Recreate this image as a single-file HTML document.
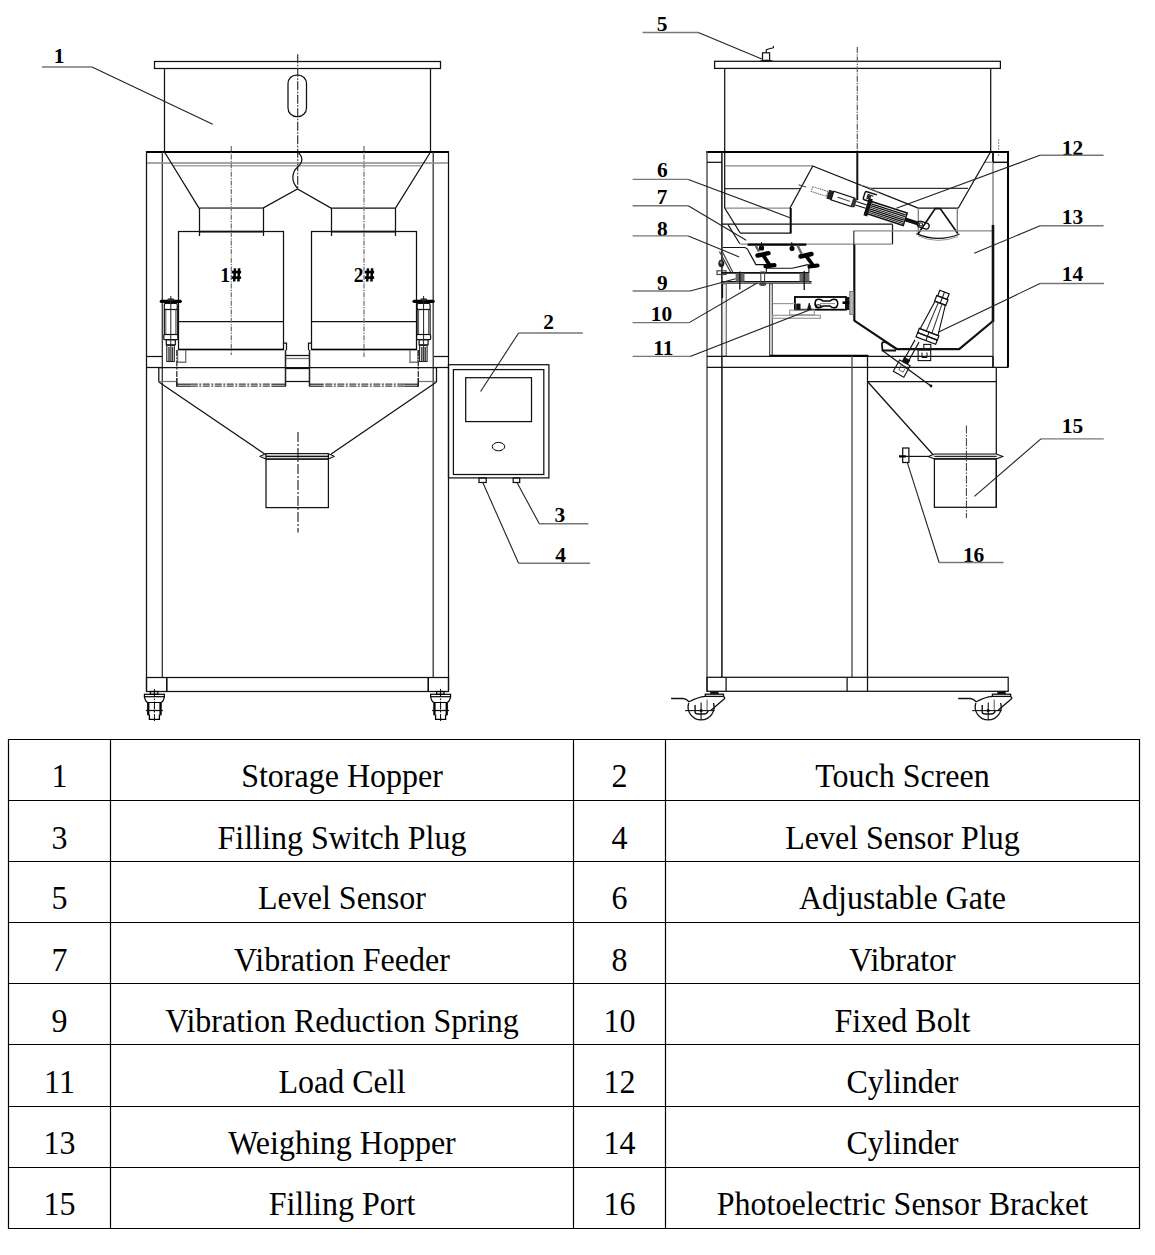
<!DOCTYPE html>
<html><head><meta charset="utf-8"><title>Machine Diagram</title>
<style>
html,body{margin:0;padding:0;background:#fff;}
body{width:1155px;height:1255px;overflow:hidden;position:relative;}
svg{position:absolute;left:0;top:0;display:block;}
</style></head><body>
<svg width="1155" height="1255" viewBox="0 0 1155 1255">
<rect x="0" y="0" width="1155" height="1255" fill="#fff"/>
<g stroke-linecap="butt" fill="none">
<line x1="8" y1="739.5" x2="1140" y2="739.5" stroke="#000" stroke-width="1.2"/>
<line x1="8" y1="800.5" x2="1140" y2="800.5" stroke="#000" stroke-width="1.2"/>
<line x1="8" y1="861.5" x2="1140" y2="861.5" stroke="#000" stroke-width="1.2"/>
<line x1="8" y1="922.5" x2="1140" y2="922.5" stroke="#000" stroke-width="1.2"/>
<line x1="8" y1="983.5" x2="1140" y2="983.5" stroke="#000" stroke-width="1.2"/>
<line x1="8" y1="1044.5" x2="1140" y2="1044.5" stroke="#000" stroke-width="1.2"/>
<line x1="8" y1="1106.5" x2="1140" y2="1106.5" stroke="#000" stroke-width="1.2"/>
<line x1="8" y1="1167.5" x2="1140" y2="1167.5" stroke="#000" stroke-width="1.2"/>
<line x1="8" y1="1228.5" x2="1140" y2="1228.5" stroke="#000" stroke-width="1.2"/>
<line x1="8.5" y1="739" x2="8.5" y2="1229" stroke="#000" stroke-width="1.2"/>
<line x1="110.5" y1="739" x2="110.5" y2="1229" stroke="#000" stroke-width="1.2"/>
<line x1="573.5" y1="739" x2="573.5" y2="1229" stroke="#000" stroke-width="1.2"/>
<line x1="665.5" y1="739" x2="665.5" y2="1229" stroke="#000" stroke-width="1.2"/>
<line x1="1139.5" y1="739" x2="1139.5" y2="1229" stroke="#000" stroke-width="1.2"/>
<rect x="154.5" y="61.5" width="286" height="7" stroke="#111" stroke-width="1.25" fill="none"/>
<line x1="164.5" y1="68.5" x2="164.5" y2="151" stroke="#111" stroke-width="1.25"/>
<line x1="430.5" y1="68.5" x2="430.5" y2="151" stroke="#111" stroke-width="1.25"/>
<rect x="288" y="75" width="18.5" height="41.5" stroke="#111" stroke-width="1.25" fill="none" rx="8.5"/>
<line x1="297.7" y1="54.3" x2="297.7" y2="188.5" stroke="#333" stroke-width="1.2" stroke-dasharray="9,1.5,1.5,1.5"/>
<line x1="146" y1="152" x2="448.5" y2="152" stroke="#000" stroke-width="2"/>
<line x1="146.5" y1="151" x2="146.5" y2="691" stroke="#111" stroke-width="1.25"/>
<line x1="162.3" y1="152" x2="162.3" y2="677.5" stroke="#333" stroke-width="1.3"/>
<line x1="433.2" y1="152" x2="433.2" y2="677.5" stroke="#333" stroke-width="1.3"/>
<line x1="448.5" y1="151" x2="448.5" y2="691" stroke="#111" stroke-width="1.25"/>
<line x1="147" y1="163" x2="448" y2="163" stroke="#8a8a8a" stroke-width="1.6"/>
<line x1="173" y1="165.8" x2="422" y2="165.8" stroke="#a5a5a5" stroke-width="1.6"/>
<polyline points="164.5,152 199,208 263,208 297.5,189 331,208 395.5,208 430.5,152" stroke="#111" stroke-width="1.25" fill="none"/>
<line x1="199" y1="208" x2="263" y2="208" stroke="#777" stroke-width="1.25"/>
<line x1="199.5" y1="208" x2="199.5" y2="236" stroke="#111" stroke-width="1.25"/>
<line x1="263.5" y1="208" x2="263.5" y2="236" stroke="#111" stroke-width="1.25"/>
<line x1="331.5" y1="208" x2="331.5" y2="236" stroke="#111" stroke-width="1.25"/>
<line x1="395.5" y1="208" x2="395.5" y2="236" stroke="#111" stroke-width="1.25"/>
<path d="M297.7,152 C303.5,157 303,162 297.7,167 C292,172 290.5,181 297.7,188.5" stroke="#111" stroke-width="1.25" fill="none"/>
<rect x="178.5" y="231.5" width="105" height="118" stroke="#111" stroke-width="1.25" fill="none"/>
<rect x="311.5" y="231.5" width="105" height="118" stroke="#111" stroke-width="1.25" fill="none"/>
<line x1="199" y1="231.6" x2="263.5" y2="231.6" stroke="#111" stroke-width="1.8"/>
<line x1="331" y1="231.6" x2="395.5" y2="231.6" stroke="#111" stroke-width="1.8"/>
<line x1="178.5" y1="349.5" x2="283.5" y2="349.5" stroke="#000" stroke-width="1.6"/>
<line x1="311.5" y1="349.5" x2="416.5" y2="349.5" stroke="#000" stroke-width="1.6"/>
<line x1="179" y1="321.5" x2="283" y2="321.5" stroke="#111" stroke-width="1.25"/>
<line x1="312" y1="321.5" x2="416" y2="321.5" stroke="#111" stroke-width="1.25"/>
<polyline points="283.5,343 286.5,343 286.5,350" stroke="#111" stroke-width="1.25" fill="none"/>
<polyline points="311.5,343 308.5,343 308.5,350" stroke="#111" stroke-width="1.25" fill="none"/>
<line x1="231.3" y1="146" x2="231.3" y2="355" stroke="#777" stroke-width="1.3" stroke-dasharray="5,1.2,1.2,1.2"/>
<line x1="364" y1="146" x2="364" y2="357" stroke="#777" stroke-width="1.3" stroke-dasharray="5,1.2,1.2,1.2"/>
<text x="0" y="0" transform="translate(230 281.8) scale(0.95 1.02)" font-family="Liberation Serif" font-size="20.5" font-weight="bold" text-anchor="end" fill="#000" stroke="none">1</text>
<text x="0" y="0" transform="translate(363.4 281.8) scale(0.95 1.02)" font-family="Liberation Serif" font-size="20.5" font-weight="bold" text-anchor="end" fill="#000" stroke="none">2</text>
<line x1="235" y1="268.3" x2="234.2" y2="281.5" stroke="#000" stroke-width="2.5"/>
<line x1="239.1" y1="268.3" x2="238.4" y2="281.5" stroke="#000" stroke-width="2.5"/>
<line x1="231.8" y1="272.1" x2="241.1" y2="272.1" stroke="#000" stroke-width="2.6"/>
<line x1="231.8" y1="277.6" x2="241.1" y2="277.6" stroke="#000" stroke-width="2.6"/>
<line x1="368" y1="268.3" x2="367.2" y2="281.5" stroke="#000" stroke-width="2.5"/>
<line x1="372.1" y1="268.3" x2="371.4" y2="281.5" stroke="#000" stroke-width="2.5"/>
<line x1="364.8" y1="272.1" x2="374.1" y2="272.1" stroke="#000" stroke-width="2.6"/>
<line x1="364.8" y1="277.6" x2="374.1" y2="277.6" stroke="#000" stroke-width="2.6"/>
<line x1="161.3" y1="301.3" x2="180.3" y2="301.3" stroke="#000" stroke-width="3.2" stroke-linecap="round"/>
<ellipse cx="170.8" cy="299.6" rx="3.5" ry="1.3" fill="#333"/>
<rect x="164.3" y="303.4" width="13" height="6.1" stroke="#111" stroke-width="1.2" fill="none" rx="1.5"/>
<rect x="164.3" y="309.5" width="13" height="25" stroke="#111" stroke-width="1.2" fill="none"/>
<line x1="165.8" y1="309.5" x2="165.8" y2="334.5" stroke="#555" stroke-width="1"/>
<line x1="175.8" y1="309.5" x2="175.8" y2="334.5" stroke="#555" stroke-width="1"/>
<rect x="163.8" y="334.5" width="14" height="5.2" stroke="#111" stroke-width="1.2" fill="none" rx="1"/>
<rect x="166.3" y="339.7" width="9" height="5.1" stroke="#111" stroke-width="1.2" fill="none"/>
<rect x="166.8" y="345.5" width="7.5" height="16" stroke="#222" stroke-width="1.1" fill="none"/>
<line x1="169" y1="347" x2="169" y2="361" stroke="#333" stroke-width="1.4"/>
<line x1="172.4" y1="347" x2="172.4" y2="361" stroke="#333" stroke-width="1.4"/>
<line x1="170.8" y1="296" x2="170.8" y2="362" stroke="#222" stroke-width="1"/>
<line x1="414.1" y1="301.3" x2="433.1" y2="301.3" stroke="#000" stroke-width="3.2" stroke-linecap="round"/>
<ellipse cx="423.6" cy="299.6" rx="3.5" ry="1.3" fill="#333"/>
<rect x="417.1" y="303.4" width="13" height="6.1" stroke="#111" stroke-width="1.2" fill="none" rx="1.5"/>
<rect x="417.1" y="309.5" width="13" height="25" stroke="#111" stroke-width="1.2" fill="none"/>
<line x1="418.6" y1="309.5" x2="418.6" y2="334.5" stroke="#555" stroke-width="1"/>
<line x1="428.6" y1="309.5" x2="428.6" y2="334.5" stroke="#555" stroke-width="1"/>
<rect x="416.6" y="334.5" width="14" height="5.2" stroke="#111" stroke-width="1.2" fill="none" rx="1"/>
<rect x="419.1" y="339.7" width="9" height="5.1" stroke="#111" stroke-width="1.2" fill="none"/>
<rect x="419.6" y="345.5" width="7.5" height="16" stroke="#222" stroke-width="1.1" fill="none"/>
<line x1="421.8" y1="347" x2="421.8" y2="361" stroke="#333" stroke-width="1.4"/>
<line x1="425.2" y1="347" x2="425.2" y2="361" stroke="#333" stroke-width="1.4"/>
<line x1="423.6" y1="296" x2="423.6" y2="362" stroke="#222" stroke-width="1"/>
<polyline points="177.5,350 177.5,362.3 185.7,362.3 185.7,350" stroke="#777" stroke-width="1.4" fill="none"/>
<polyline points="418,350 418,362.3 410,362.3 410,350" stroke="#777" stroke-width="1.4" fill="none"/>
<line x1="147" y1="356.5" x2="162" y2="356.5" stroke="#111" stroke-width="1.25"/>
<line x1="147" y1="367.5" x2="162" y2="367.5" stroke="#111" stroke-width="1.25"/>
<line x1="434" y1="356.5" x2="448" y2="356.5" stroke="#111" stroke-width="1.25"/>
<line x1="434" y1="367.5" x2="448" y2="367.5" stroke="#111" stroke-width="1.25"/>
<line x1="285.5" y1="355.5" x2="309.5" y2="355.5" stroke="#111" stroke-width="1.25"/>
<line x1="285.5" y1="358.5" x2="309.5" y2="358.5" stroke="#777" stroke-width="1.25"/>
<line x1="285.5" y1="368.5" x2="309.5" y2="368.5" stroke="#111" stroke-width="1.25"/>
<line x1="285.5" y1="381.5" x2="309.5" y2="381.5" stroke="#111" stroke-width="1.25"/>
<line x1="285.5" y1="350" x2="285.5" y2="386" stroke="#111" stroke-width="1.25"/>
<line x1="309.5" y1="350" x2="309.5" y2="386" stroke="#111" stroke-width="1.25"/>
<polyline points="158.8,382 158.8,367.5 436.5,367.5 436.5,382" stroke="#111" stroke-width="1.25" fill="none"/>
<line x1="158.8" y1="382" x2="264.7" y2="454" stroke="#111" stroke-width="1.25"/>
<line x1="436.5" y1="382" x2="331.2" y2="454" stroke="#111" stroke-width="1.25"/>
<line x1="159" y1="381.5" x2="176" y2="381.5" stroke="#777" stroke-width="1.25"/>
<line x1="419" y1="381.5" x2="436" y2="381.5" stroke="#777" stroke-width="1.25"/>
<line x1="176.8" y1="350" x2="176.8" y2="386.5" stroke="#333" stroke-width="1.3" stroke-dasharray="6,1.5,1.5,1.5"/>
<line x1="176.8" y1="378" x2="176.8" y2="386.5" stroke="#222" stroke-width="1.4"/>
<line x1="285.5" y1="350" x2="285.5" y2="386.5" stroke="#222" stroke-width="1.3"/>
<line x1="176.8" y1="384.2" x2="190.8" y2="384.2" stroke="#222" stroke-width="1.2"/>
<line x1="190.8" y1="384.2" x2="271.5" y2="384.2" stroke="#444" stroke-width="1.2" stroke-dasharray="7,1.5,2,1.5"/>
<line x1="271.5" y1="384.2" x2="285.5" y2="384.2" stroke="#222" stroke-width="1.2"/>
<line x1="176.8" y1="386.2" x2="190.8" y2="386.2" stroke="#222" stroke-width="1.2"/>
<line x1="190.8" y1="386.2" x2="271.5" y2="386.2" stroke="#444" stroke-width="1.2" stroke-dasharray="7,1.5,2,1.5"/>
<line x1="271.5" y1="386.2" x2="285.5" y2="386.2" stroke="#222" stroke-width="1.2"/>
<line x1="418.3" y1="350" x2="418.3" y2="386.5" stroke="#333" stroke-width="1.3" stroke-dasharray="6,1.5,1.5,1.5"/>
<line x1="418.3" y1="378" x2="418.3" y2="386.5" stroke="#222" stroke-width="1.4"/>
<line x1="309.5" y1="350" x2="309.5" y2="386.5" stroke="#222" stroke-width="1.3"/>
<line x1="418.3" y1="384.2" x2="404.3" y2="384.2" stroke="#222" stroke-width="1.2"/>
<line x1="404.3" y1="384.2" x2="323.5" y2="384.2" stroke="#444" stroke-width="1.2" stroke-dasharray="7,1.5,2,1.5"/>
<line x1="323.5" y1="384.2" x2="309.5" y2="384.2" stroke="#222" stroke-width="1.2"/>
<line x1="418.3" y1="386.2" x2="404.3" y2="386.2" stroke="#222" stroke-width="1.2"/>
<line x1="404.3" y1="386.2" x2="323.5" y2="386.2" stroke="#444" stroke-width="1.2" stroke-dasharray="7,1.5,2,1.5"/>
<line x1="323.5" y1="386.2" x2="309.5" y2="386.2" stroke="#222" stroke-width="1.2"/>
<path d="M259.7,456.4 L266,453.6 L328.4,453.6 L334.5,456.4 L328.4,459.1 L266,459.1 Z" stroke="#000" stroke-width="1" fill="#ddd"/>
<line x1="266" y1="456.4" x2="328.4" y2="456.4" stroke="#111" stroke-width="1.25"/>
<line x1="266" y1="453.6" x2="266" y2="459.1" stroke="#111" stroke-width="1.25"/>
<line x1="328.4" y1="453.6" x2="328.4" y2="459.1" stroke="#111" stroke-width="1.25"/>
<rect x="266" y="459.1" width="62.4" height="48.5" stroke="#111" stroke-width="1.25" fill="none"/>
<line x1="298" y1="432" x2="298" y2="532.5" stroke="#000" stroke-width="1" stroke-dasharray="10,2,2,2"/>
<rect x="146.5" y="677.5" width="302" height="14" stroke="#111" stroke-width="1.25" fill="none"/>
<line x1="166.8" y1="677.5" x2="166.8" y2="691.5" stroke="#000" stroke-width="1.5"/>
<line x1="428.2" y1="677.5" x2="428.2" y2="691.5" stroke="#000" stroke-width="1.5"/>
<rect x="150.4" y="691.5" width="7.5" height="2.8" stroke="#000" stroke-width="1.2" fill="none"/>
<rect x="144.4" y="694.3" width="20" height="2.4" stroke="#000" stroke-width="1.2" fill="none"/>
<path d="M144.4,696.7 Q145.4,702 147.9,702.5 L160.9,702.5 Q163.4,702 164.4,696.7" stroke="#000" stroke-width="1.2" fill="none"/>
<path d="M147.9,702.5 L147.9,714.8 L149.4,715 L149.4,719.4 L159.4,719.4 L159.4,715 L160.9,714.8 L160.9,702.5" stroke="#000" stroke-width="1.3" fill="none"/>
<line x1="148.4" y1="703" x2="148.4" y2="714.5" stroke="#000" stroke-width="2"/>
<line x1="160.4" y1="703" x2="160.4" y2="714.5" stroke="#000" stroke-width="2"/>
<line x1="145.9" y1="710.5" x2="162.9" y2="710.5" stroke="#111" stroke-width="1.25"/>
<line x1="154.4" y1="689" x2="154.4" y2="721" stroke="#000" stroke-width="1" stroke-dasharray="8,1.5,1.5,1.5"/>
<rect x="436.6" y="691.5" width="7.5" height="2.8" stroke="#000" stroke-width="1.2" fill="none"/>
<rect x="430.6" y="694.3" width="20" height="2.4" stroke="#000" stroke-width="1.2" fill="none"/>
<path d="M430.6,696.7 Q431.6,702 434.1,702.5 L447.1,702.5 Q449.6,702 450.6,696.7" stroke="#000" stroke-width="1.2" fill="none"/>
<path d="M434.1,702.5 L434.1,714.8 L435.6,715 L435.6,719.4 L445.6,719.4 L445.6,715 L447.1,714.8 L447.1,702.5" stroke="#000" stroke-width="1.3" fill="none"/>
<line x1="434.6" y1="703" x2="434.6" y2="714.5" stroke="#000" stroke-width="2"/>
<line x1="446.6" y1="703" x2="446.6" y2="714.5" stroke="#000" stroke-width="2"/>
<line x1="432.1" y1="710.5" x2="449.1" y2="710.5" stroke="#111" stroke-width="1.25"/>
<line x1="440.6" y1="689" x2="440.6" y2="721" stroke="#000" stroke-width="1" stroke-dasharray="8,1.5,1.5,1.5"/>
<rect x="448.5" y="364.7" width="100.4" height="113.2" stroke="#111" stroke-width="1.25" fill="none"/>
<rect x="453.4" y="369.6" width="90.4" height="104.9" stroke="#111" stroke-width="1.25" fill="none"/>
<rect x="465.7" y="377.7" width="65.8" height="43.9" stroke="#111" stroke-width="1.25" fill="none"/>
<ellipse cx="498.5" cy="446.6" rx="6.2" ry="4.2" stroke="#000" fill="none"/>
<rect x="479" y="478" width="7.2" height="4.5" stroke="#111" stroke-width="1.25" fill="none"/>
<rect x="513.2" y="478" width="6.5" height="4.5" stroke="#111" stroke-width="1.25" fill="none"/>
<rect x="714.6" y="61.3" width="285.8" height="7.1" stroke="#111" stroke-width="1.25" fill="none"/>
<line x1="724.7" y1="68.4" x2="724.7" y2="208" stroke="#111" stroke-width="1.25"/>
<line x1="990.7" y1="68.4" x2="990.7" y2="152" stroke="#111" stroke-width="1.25"/>
<ellipse cx="766.5" cy="60.6" rx="6.3" ry="0.9" fill="#111"/>
<rect x="762.5" y="52.8" width="7.1" height="7.7" stroke="#111" stroke-width="1.2" fill="none"/>
<path d="M766.3,52.8 L766.3,49.7 Q769,48.6 772.5,48 Q774,47.5 773.2,46" stroke="#111" stroke-width="1.2" fill="none"/>
<line x1="857.3" y1="47" x2="857.3" y2="151" stroke="#666" stroke-width="1.3" stroke-dasharray="6,1.2,1.2,1.2"/>
<line x1="998.6" y1="139" x2="998.6" y2="156" stroke="#999" stroke-width="1.2" stroke-dasharray="2,1"/>
<line x1="857.3" y1="151" x2="857.3" y2="200" stroke="#111" stroke-width="2"/>
<line x1="706" y1="152" x2="1009" y2="152" stroke="#000" stroke-width="2"/>
<line x1="707" y1="151" x2="707" y2="691.3" stroke="#555" stroke-width="1.5"/>
<line x1="721.9" y1="152" x2="721.9" y2="677.3" stroke="#222" stroke-width="1.6"/>
<line x1="707" y1="162.3" x2="721.9" y2="162.3" stroke="#111" stroke-width="1.25"/>
<line x1="993" y1="152" x2="993" y2="225" stroke="#777" stroke-width="1.3"/>
<line x1="993" y1="152" x2="993" y2="162.3" stroke="#111" stroke-width="1.8"/>
<line x1="1008" y1="151" x2="1008" y2="367.5" stroke="#000" stroke-width="2"/>
<line x1="993" y1="162.3" x2="1008" y2="162.3" stroke="#111" stroke-width="1.5"/>
<line x1="985" y1="162.3" x2="993" y2="162.3" stroke="#888" stroke-width="1.25"/>
<line x1="725" y1="165.8" x2="812.9" y2="165.8" stroke="#888" stroke-width="1.25"/>
<line x1="725" y1="188.6" x2="800" y2="188.6" stroke="#333" stroke-width="1.25"/>
<line x1="870" y1="188.4" x2="968" y2="188.4" stroke="#333" stroke-width="1.25"/>
<line x1="725" y1="208" x2="790" y2="208" stroke="#888" stroke-width="1.25"/>
<line x1="724.7" y1="208" x2="740.2" y2="233" stroke="#111" stroke-width="1.25"/>
<line x1="812.9" y1="165.8" x2="790" y2="208" stroke="#111" stroke-width="1.25"/>
<line x1="790.7" y1="208" x2="790.7" y2="233.5" stroke="#000" stroke-width="2"/>
<line x1="740.2" y1="233" x2="790.7" y2="233" stroke="#111" stroke-width="1.25"/>
<line x1="812.7" y1="166" x2="918.2" y2="208.2" stroke="#111" stroke-width="1.25"/>
<line x1="990.5" y1="152" x2="958.2" y2="208.2" stroke="#111" stroke-width="1.25"/>
<line x1="918.2" y1="208.2" x2="958.2" y2="208.2" stroke="#111" stroke-width="1.25"/>
<line x1="918.3" y1="208.2" x2="918.3" y2="235" stroke="#777" stroke-width="1.25"/>
<line x1="957.3" y1="208.2" x2="957.3" y2="233" stroke="#777" stroke-width="1.25"/>
<polyline points="918,234 935.2,208.6 940.2,208.6 957.8,233.6" stroke="#111" stroke-width="1.7" fill="none"/>
<path d="M916.4,233.6 Q938,243 959.6,234" stroke="#111" stroke-width="1.3" fill="none"/>
<path d="M918,236 Q938,244.5 958,236.5" stroke="#999" stroke-width="1" fill="none"/>
<g transform="translate(812,189) rotate(18)"><rect x="0" y="-2.5" width="16" height="5" fill="none" stroke="#666" stroke-width="1" stroke-dasharray="1.6,0.8"/><rect x="16.5" y="-4.5" width="5" height="9" fill="#222"/><rect x="21.5" y="-4.5" width="22" height="9" fill="none" stroke="#111" stroke-width="1.2"/><line x1="27" y1="0" x2="40" y2="0" stroke="#333" stroke-width="1"/><rect x="42" y="-4.5" width="4" height="9" fill="#333"/><line x1="46" y1="-1.8" x2="57" y2="-1.8" stroke="#111"/><line x1="46" y1="1.8" x2="57" y2="1.8" stroke="#111"/><rect x="58" y="-6.5" width="40" height="13" fill="none" stroke="#111" stroke-width="1.5"/><rect x="57" y="-9" width="4" height="18" fill="#111"/><line x1="61" y1="-4.3" x2="97" y2="-4.3" stroke="#111" stroke-width="1.3"/><line x1="61" y1="-2.4" x2="97" y2="-2.4" stroke="#111" stroke-width="1.3"/><line x1="61" y1="-0.6" x2="97" y2="-0.6" stroke="#222" stroke-width="1"/><line x1="61" y1="1.2" x2="97" y2="1.2" stroke="#111" stroke-width="1.3"/><line x1="61" y1="3" x2="97" y2="3" stroke="#111" stroke-width="1.3"/><line x1="61" y1="4.7" x2="97" y2="4.7" stroke="#222" stroke-width="1"/><rect x="98" y="-2" width="14" height="4" fill="#111"/><rect x="111" y="-3" width="12" height="6" rx="3" fill="none" stroke="#111" stroke-width="1.3"/><circle cx="114.5" cy="0" r="1.6" fill="none" stroke="#111" stroke-width="1"/><line x1="-14" y1="0" x2="-6" y2="0" stroke="#333" stroke-width="1"/></g>
<g transform="translate(865.5,191.2) rotate(18)"><path d="M12,0 L1.5,0 Q0,0 0,1.5 L0,7 Q0,8.5 1.5,8.5 L10,8.5" fill="none" stroke="#111" stroke-width="1.5"/><path d="M9,2.3 L3.5,2.3 L3.5,6.3 L8,6.3" fill="none" stroke="#111" stroke-width="1.1"/><circle cx="5.5" cy="4.3" r="1.6" fill="#222"/></g>
<path d="M860,185 Q868,186 879,193" stroke="#777" stroke-width="1.2" fill="none"/>
<line x1="721.9" y1="224.2" x2="892.5" y2="224.2" stroke="#111" stroke-width="1.25"/>
<line x1="892.5" y1="224.2" x2="892.5" y2="244.2" stroke="#111" stroke-width="1.25"/>
<line x1="740.3" y1="244.1" x2="892.5" y2="244.1" stroke="#888" stroke-width="1.2"/>
<line x1="853.5" y1="230.9" x2="993" y2="230.9" stroke="#888" stroke-width="1.25"/>
<line x1="853.8" y1="230.9" x2="853.8" y2="245" stroke="#444" stroke-width="1.3"/>
<line x1="854.3" y1="244.5" x2="854.3" y2="321" stroke="#111" stroke-width="2.2"/>
<polyline points="854.3,320.6 897,349.2 959.2,349.2 993,321" stroke="#111" stroke-width="2.2" fill="none"/>
<line x1="993" y1="224.9" x2="993" y2="322" stroke="#111" stroke-width="2.6"/>
<line x1="993" y1="321" x2="993" y2="367.4" stroke="#333" stroke-width="1.2"/>
<path d="M897,349.2 L886,342.5 Q881.5,341 882,345 L882.5,350.5 L896,350.5" stroke="#111" stroke-width="1.8" fill="none"/>
<line x1="883" y1="351" x2="931.3" y2="386.2" stroke="#111" stroke-width="1.3"/>
<circle cx="931" cy="386" r="1.4" fill="#111"/>
<rect x="918.1" y="350.1" width="12.6" height="10.5" stroke="#111" stroke-width="1.1" fill="none"/>
<path d="M922,352.5 L922,357.5 L927,357.5 L927,352.5" stroke="#111" stroke-width="1" fill="none"/>
<g transform="translate(944.5,292) rotate(111)"><rect x="0" y="-5" width="6" height="10" fill="none" stroke="#111" stroke-width="1.2"/><rect x="6" y="-6" width="6" height="12" fill="none" stroke="#111" stroke-width="1.2"/><line x1="0" y1="0" x2="12" y2="0" stroke="#111"/><polygon points="12,-5.5 43,-9.5 43,9.5 12,5.5" fill="none" stroke="#111" stroke-width="1.1"/><line x1="12" y1="-2" x2="43" y2="-3" stroke="#333" stroke-width="1"/><line x1="12" y1="2" x2="43" y2="3" stroke="#333" stroke-width="1"/><rect x="43" y="-10.5" width="4.5" height="21" fill="none" stroke="#111" stroke-width="1.2"/><rect x="47.5" y="-10.5" width="4.5" height="21" fill="none" stroke="#111" stroke-width="1.2"/><line x1="43" y1="0" x2="52" y2="0" stroke="#111"/></g>
<g transform="translate(917,341) rotate(119)"><line x1="0" y1="-2.3" x2="21" y2="-2.3" stroke="#111" stroke-width="1.1"/><line x1="0" y1="2.3" x2="21" y2="2.3" stroke="#111" stroke-width="1.1"/><rect x="20" y="-3.5" width="5" height="7" fill="#111"/><rect x="25" y="-6" width="13" height="12" fill="none" stroke="#111" stroke-width="1.1"/><rect x="28" y="-3" width="6" height="5" fill="none" stroke="#555" stroke-width="0.8"/></g>
<rect x="923.8" y="344.4" width="7" height="4.8" stroke="#111" stroke-width="1.1" fill="none"/>
<path d="M728,224.6 L739.8,243.8" stroke="#111" stroke-width="1.2" fill="none"/>
<line x1="747.6" y1="244.6" x2="806.3" y2="244.6" stroke="#000" stroke-width="2.4"/>
<path d="M722.7,247.5 L744.5,247.5 Q747.5,248 749,252 L755.9,264.6 L766.3,264.6" stroke="#111" stroke-width="1.2" fill="none"/>
<path d="M766.3,268.2 L792.3,268.2 L807.9,264.6" stroke="#111" stroke-width="1.1" fill="none"/>
<line x1="766.3" y1="266.5" x2="766.3" y2="273" stroke="#111" stroke-width="1.1"/>
<line x1="808.9" y1="264" x2="808.9" y2="273" stroke="#111" stroke-width="1.1"/>
<path d="M755.9,245.9 L759,251.6" stroke="#666" stroke-width="2.4" fill="none"/>
<path d="M797.5,245.4 L801.6,253.7" stroke="#666" stroke-width="2.4" fill="none"/>
<line x1="757.5" y1="255.5" x2="768.5" y2="253.2" stroke="#000" stroke-width="4.4" stroke-linecap="round"/>
<line x1="765.5" y1="266.2" x2="774.5" y2="265.2" stroke="#000" stroke-width="4.2" stroke-linecap="round"/>
<line x1="763" y1="254.85" x2="770" y2="265.7" stroke="#000" stroke-width="3.8" stroke-linecap="round"/>
<line x1="800.5" y1="256.5" x2="811.5" y2="254" stroke="#000" stroke-width="4.4" stroke-linecap="round"/>
<line x1="809.5" y1="266.5" x2="817.5" y2="265.5" stroke="#000" stroke-width="4.2" stroke-linecap="round"/>
<line x1="806" y1="255.75" x2="813.5" y2="266" stroke="#000" stroke-width="3.8" stroke-linecap="round"/>
<rect x="759" y="245.5" width="5" height="5" rx="1.5" fill="#000"/>
<rect x="789.5" y="246" width="5" height="5" rx="2" fill="#000"/>
<line x1="761.5" y1="242" x2="761.5" y2="247" stroke="#111" stroke-width="1"/>
<line x1="791.8" y1="242" x2="791.8" y2="247" stroke="#111" stroke-width="1"/>
<path d="M719.5,251.6 L731,272.9 M722,251 L733,272.5" stroke="#444" stroke-width="1.2" fill="none"/>
<ellipse cx="721.3" cy="263.5" rx="3" ry="3.8" fill="#222"/>
<circle cx="721" cy="262.5" r="1.2" fill="#888"/>
<rect x="717" y="270.8" width="9" height="3.7" stroke="#444" stroke-width="1.2" fill="none"/>
<line x1="721.1" y1="272.9" x2="808.9" y2="272.9" stroke="#111" stroke-width="1.8"/>
<line x1="721.6" y1="281.8" x2="811.5" y2="281.8" stroke="#111" stroke-width="1.5"/>
<line x1="721.6" y1="283.3" x2="811.5" y2="283.3" stroke="#666" stroke-width="1.2"/>
<rect x="735.6" y="273.5" width="8.9" height="8" stroke="none" stroke-width="0" fill="#666"/>
<rect x="799.5" y="273.5" width="9.9" height="8" stroke="none" stroke-width="0" fill="#666"/>
<line x1="739.8" y1="271.4" x2="739.8" y2="289.5" stroke="#111" stroke-width="1.3"/>
<line x1="804.2" y1="271" x2="804.2" y2="290" stroke="#111" stroke-width="1.3"/>
<rect x="760.8" y="272" width="3.8" height="11" stroke="#444" stroke-width="1.1" fill="none"/>
<ellipse cx="762.7" cy="284.3" rx="3.6" ry="1.6" fill="#444"/>
<rect x="722.1" y="283.8" width="4.2" height="72.4" stroke="#666" stroke-width="1.1" fill="#f2f2f2"/>
<line x1="722.3" y1="284" x2="722.3" y2="298" stroke="#111" stroke-width="1.6"/>
<rect x="769.6" y="283.8" width="2.7" height="72.2" stroke="#444" stroke-width="1.1" fill="#eee"/>
<line x1="769.9" y1="355.8" x2="868.5" y2="355.8" stroke="#000" stroke-width="2.2"/>
<rect x="794.9" y="297" width="51.1" height="12.7" stroke="#000" stroke-width="1.8" fill="none"/>
<line x1="772.8" y1="303.6" x2="794.9" y2="303.6" stroke="#999" stroke-width="1.2"/>
<rect x="789.7" y="310.1" width="24.7" height="4.8" stroke="#999" stroke-width="1.2" fill="none"/>
<rect x="772.8" y="315.3" width="47.6" height="3" stroke="#999" stroke-width="1.2" fill="none"/>
<path d="M816,300 Q814,303.5 816,307 Q820,309 823,306 L830,306 Q833,309 836.5,307 Q839,303.5 836.5,300 Q833,298 830,301 L823,301 Q820,298 816,300 Z" stroke="#000" stroke-width="1.5" fill="none"/>
<ellipse cx="818.5" cy="306" rx="2.6" ry="1.3" fill="none" stroke="#000" stroke-width="1.1"/>
<line x1="820" y1="303.6" x2="835" y2="303.6" stroke="#888" stroke-width="1"/>
<rect x="796.2" y="303.6" width="4.3" height="6.1" stroke="none" stroke-width="0" fill="#111"/>
<path d="M807.4,309.7 L809.3,303 L811.3,309.7 Z" stroke="#111" stroke-width="0.8" fill="#111"/>
<rect x="846" y="297" width="3.5" height="13" stroke="none" stroke-width="0" fill="#111"/>
<line x1="842.5" y1="302.7" x2="854.2" y2="302.7" stroke="#000" stroke-width="2.6"/>
<rect x="849.8" y="291.5" width="3.5" height="22.9" stroke="#777" stroke-width="1" fill="#bbb"/>
<line x1="707" y1="356.4" x2="852" y2="356.4" stroke="#111" stroke-width="1.25"/>
<line x1="868" y1="356.4" x2="993" y2="356.4" stroke="#111" stroke-width="1.25"/>
<line x1="707" y1="367.4" x2="1008" y2="367.4" stroke="#111" stroke-width="1.25"/>
<line x1="852" y1="355.8" x2="852" y2="677.3" stroke="#444" stroke-width="1.3"/>
<line x1="867.5" y1="355.8" x2="867.5" y2="691.3" stroke="#111" stroke-width="1.25"/>
<line x1="993" y1="356.4" x2="993" y2="367.4" stroke="#111" stroke-width="1.5"/>
<line x1="996.3" y1="367.4" x2="996.3" y2="507.3" stroke="#111" stroke-width="1.25"/>
<line x1="867.5" y1="381.5" x2="996.3" y2="381.5" stroke="#111" stroke-width="1.25"/>
<line x1="867.5" y1="381.5" x2="932.9" y2="454.5" stroke="#111" stroke-width="1.25"/>
<path d="M928.2,456.4 L934.4,454 L996.5,454 L1002.7,456.4 L996.5,458.9 L934.4,458.9 Z" stroke="#111" stroke-width="1.1" fill="#e4e4e4"/>
<line x1="934.4" y1="456.4" x2="996.5" y2="456.4" stroke="#111" stroke-width="1"/>
<rect x="934.4" y="458.9" width="61.9" height="48.4" stroke="#111" stroke-width="1.25" fill="none"/>
<line x1="966.4" y1="425.5" x2="966.4" y2="518.2" stroke="#333" stroke-width="1" stroke-dasharray="8,1.5,1.5,1.5"/>
<rect x="902.7" y="448" width="6.2" height="14.5" stroke="#111" stroke-width="1.25" fill="none"/>
<line x1="899" y1="456.4" x2="928.2" y2="456.4" stroke="#111" stroke-width="1.2"/>
<line x1="899" y1="456.4" x2="906" y2="456.4" stroke="#000" stroke-width="2.2"/>
<rect x="707" y="677.3" width="301.2" height="14" stroke="#111" stroke-width="1.25" fill="none"/>
<line x1="726.1" y1="677.3" x2="726.1" y2="691.3" stroke="#111" stroke-width="1.25"/>
<line x1="847.1" y1="677.3" x2="847.1" y2="691.3" stroke="#111" stroke-width="1.25"/>
<rect x="710.2" y="691.3" width="8.4" height="2.7" stroke="none" stroke-width="0" fill="#111"/>
<rect x="705.3" y="694.2" width="18.2" height="2.2" stroke="#111" stroke-width="1.3" fill="none"/>
<line x1="725" y1="698.2" x2="711" y2="710.3" stroke="#111" stroke-width="1.3"/>
<line x1="723.5" y1="696.4" x2="725" y2="698.2" stroke="#111" stroke-width="1.3"/>
<path d="M688.7,703 A13,13 0 1 0 713.5,703" stroke="#111" stroke-width="1.3" fill="none"/>
<path d="M671.1,698.5 L683.1,698.5 Q686.1,698.5 689.1,701.8 Q698.1,697 705.3,696.4" stroke="#111" stroke-width="1.3" fill="none"/>
<line x1="685.1" y1="710.6" x2="714.6" y2="710.6" stroke="#111" stroke-width="1.1"/>
<line x1="701.1" y1="702.4" x2="701.1" y2="720" stroke="#111" stroke-width="1.1"/>
<line x1="707.1" y1="699.5" x2="707.1" y2="710" stroke="#666" stroke-width="1.1"/>
<path d="M695.1,705 L695.1,712 Q695.1,714 698.1,714 L704.1,714 Q707.1,714 708.1,711" stroke="#111" stroke-width="1.4" fill="none"/>
<circle cx="701.1" cy="710.6" r="1.6" fill="#111"/>
<rect x="997.3" y="691.3" width="8.4" height="2.7" stroke="none" stroke-width="0" fill="#111"/>
<rect x="992.4" y="694.2" width="18.2" height="2.2" stroke="#111" stroke-width="1.3" fill="none"/>
<line x1="1012.1" y1="698.2" x2="998.1" y2="710.3" stroke="#111" stroke-width="1.3"/>
<line x1="1010.6" y1="696.4" x2="1012.1" y2="698.2" stroke="#111" stroke-width="1.3"/>
<path d="M975.8,703 A13,13 0 1 0 1000.6,703" stroke="#111" stroke-width="1.3" fill="none"/>
<path d="M958.2,698.5 L970.2,698.5 Q973.2,698.5 976.2,701.8 Q985.2,697 992.4,696.4" stroke="#111" stroke-width="1.3" fill="none"/>
<line x1="972.2" y1="710.6" x2="1001.7" y2="710.6" stroke="#111" stroke-width="1.1"/>
<line x1="988.2" y1="702.4" x2="988.2" y2="720" stroke="#111" stroke-width="1.1"/>
<line x1="994.2" y1="699.5" x2="994.2" y2="710" stroke="#666" stroke-width="1.1"/>
<path d="M982.2,705 L982.2,712 Q982.2,714 985.2,714 L991.2,714 Q994.2,714 995.2,711" stroke="#111" stroke-width="1.4" fill="none"/>
<circle cx="988.2" cy="710.6" r="1.6" fill="#111"/>
<text x="0" y="0" transform="translate(59 63.3) scale(1.02 0.98)" font-family="Liberation Serif" font-size="21" font-weight="bold" text-anchor="middle" fill="#000" stroke="none">1</text>
<line x1="42" y1="67" x2="92" y2="67" stroke="#777" stroke-width="1.4"/>
<line x1="92" y1="67" x2="212.7" y2="124.3" stroke="#222" stroke-width="1.1"/>
<text x="0" y="0" transform="translate(548.7 329) scale(1.02 0.98)" font-family="Liberation Serif" font-size="21" font-weight="bold" text-anchor="middle" fill="#000" stroke="none">2</text>
<line x1="582.8" y1="333" x2="518.6" y2="333" stroke="#777" stroke-width="1.4"/>
<line x1="518.6" y1="333" x2="480.6" y2="391.5" stroke="#222" stroke-width="1.1"/>
<text x="0" y="0" transform="translate(559.8 522) scale(1.02 0.98)" font-family="Liberation Serif" font-size="21" font-weight="bold" text-anchor="middle" fill="#000" stroke="none">3</text>
<line x1="588.4" y1="523.8" x2="539.3" y2="523.8" stroke="#777" stroke-width="1.4"/>
<line x1="539.3" y1="523.8" x2="517" y2="482.5" stroke="#222" stroke-width="1.1"/>
<text x="0" y="0" transform="translate(560.5 562.2) scale(1.02 0.98)" font-family="Liberation Serif" font-size="21" font-weight="bold" text-anchor="middle" fill="#000" stroke="none">4</text>
<line x1="590" y1="563.3" x2="518.6" y2="563.3" stroke="#777" stroke-width="1.4"/>
<line x1="518.6" y1="563.3" x2="482.8" y2="482.5" stroke="#222" stroke-width="1.1"/>
<text x="0" y="0" transform="translate(662 31.4) scale(1.02 0.98)" font-family="Liberation Serif" font-size="21" font-weight="bold" text-anchor="middle" fill="#000" stroke="none">5</text>
<line x1="642.5" y1="32.5" x2="698.3" y2="32.5" stroke="#777" stroke-width="1.4"/>
<line x1="698.3" y1="32.5" x2="761.8" y2="59.1" stroke="#222" stroke-width="1.1"/>
<text x="0" y="0" transform="translate(662.4 177.2) scale(1.02 0.98)" font-family="Liberation Serif" font-size="21" font-weight="bold" text-anchor="middle" fill="#000" stroke="none">6</text>
<line x1="632.6" y1="179.4" x2="688.3" y2="179.4" stroke="#777" stroke-width="1.4"/>
<line x1="688.3" y1="179.4" x2="790" y2="217.7" stroke="#222" stroke-width="1.1"/>
<text x="0" y="0" transform="translate(662 204) scale(1.02 0.98)" font-family="Liberation Serif" font-size="21" font-weight="bold" text-anchor="middle" fill="#000" stroke="none">7</text>
<line x1="632.6" y1="205.7" x2="688.3" y2="205.7" stroke="#777" stroke-width="1.4"/>
<line x1="688.3" y1="205.7" x2="746.2" y2="240.2" stroke="#222" stroke-width="1.1"/>
<text x="0" y="0" transform="translate(662.4 235.5) scale(1.02 0.98)" font-family="Liberation Serif" font-size="21" font-weight="bold" text-anchor="middle" fill="#000" stroke="none">8</text>
<line x1="632.6" y1="235.9" x2="688.3" y2="235.9" stroke="#777" stroke-width="1.4"/>
<line x1="688.3" y1="235.9" x2="739.2" y2="256.9" stroke="#222" stroke-width="1.1"/>
<text x="0" y="0" transform="translate(662.4 290.2) scale(1.02 0.98)" font-family="Liberation Serif" font-size="21" font-weight="bold" text-anchor="middle" fill="#000" stroke="none">9</text>
<line x1="632.6" y1="291" x2="690.1" y2="291" stroke="#777" stroke-width="1.4"/>
<line x1="690.1" y1="291" x2="735.6" y2="278.8" stroke="#222" stroke-width="1.1"/>
<text x="0" y="0" transform="translate(661.5 320.8) scale(1.02 0.98)" font-family="Liberation Serif" font-size="21" font-weight="bold" text-anchor="middle" fill="#000" stroke="none">10</text>
<line x1="632.6" y1="322.6" x2="689.2" y2="322.6" stroke="#777" stroke-width="1.4"/>
<line x1="689.2" y1="322.6" x2="756.7" y2="283.2" stroke="#222" stroke-width="1.1"/>
<text x="0" y="0" transform="translate(663.3 355) scale(1.02 0.98)" font-family="Liberation Serif" font-size="21" font-weight="bold" text-anchor="middle" fill="#000" stroke="none">11</text>
<line x1="632.6" y1="356.4" x2="690.1" y2="356.4" stroke="#777" stroke-width="1.4"/>
<line x1="690.1" y1="356.4" x2="808.9" y2="310.2" stroke="#222" stroke-width="1.1"/>
<text x="0" y="0" transform="translate(1072.5 155.1) scale(1.02 0.98)" font-family="Liberation Serif" font-size="21" font-weight="bold" text-anchor="middle" fill="#000" stroke="none">12</text>
<line x1="1103.6" y1="155.3" x2="1040" y2="155.3" stroke="#777" stroke-width="1.4"/>
<line x1="1040" y1="155.3" x2="896.4" y2="208.2" stroke="#222" stroke-width="1.1"/>
<text x="0" y="0" transform="translate(1072.5 224.2) scale(1.02 0.98)" font-family="Liberation Serif" font-size="21" font-weight="bold" text-anchor="middle" fill="#000" stroke="none">13</text>
<line x1="1103.6" y1="225.8" x2="1040" y2="225.8" stroke="#777" stroke-width="1.4"/>
<line x1="1040" y1="225.8" x2="974.2" y2="253.3" stroke="#222" stroke-width="1.1"/>
<text x="0" y="0" transform="translate(1072.5 281.1) scale(1.02 0.98)" font-family="Liberation Serif" font-size="21" font-weight="bold" text-anchor="middle" fill="#000" stroke="none">14</text>
<line x1="1104" y1="283.5" x2="1040" y2="283.5" stroke="#777" stroke-width="1.4"/>
<line x1="1040" y1="283.5" x2="938.2" y2="332.3" stroke="#222" stroke-width="1.1"/>
<text x="0" y="0" transform="translate(1072.5 433) scale(1.02 0.98)" font-family="Liberation Serif" font-size="21" font-weight="bold" text-anchor="middle" fill="#000" stroke="none">15</text>
<line x1="1103.8" y1="438.9" x2="1040.9" y2="438.9" stroke="#777" stroke-width="1.4"/>
<line x1="1040.9" y1="438.9" x2="974.4" y2="496.4" stroke="#222" stroke-width="1.1"/>
<text x="0" y="0" transform="translate(973.6 562) scale(1.02 0.98)" font-family="Liberation Serif" font-size="21" font-weight="bold" text-anchor="middle" fill="#000" stroke="none">16</text>
<line x1="907.1" y1="461.8" x2="939.1" y2="562.5" stroke="#222" stroke-width="1.1"/>
<line x1="939.1" y1="562.5" x2="1003.5" y2="562.5" stroke="#777" stroke-width="1.4"/>
</g>
<g font-family="Liberation Serif" font-size="32" fill="#000">
<text x="59.5" y="0" text-anchor="middle" transform="translate(0 787.4) scale(1 1.06) translate(0 0)">1</text>
<text x="342" y="0" text-anchor="middle" transform="translate(0 787.4) scale(1 1.06) translate(0 0)">Storage Hopper</text>
<text x="619.5" y="0" text-anchor="middle" transform="translate(0 787.4) scale(1 1.06) translate(0 0)">2</text>
<text x="902.5" y="0" text-anchor="middle" transform="translate(0 787.4) scale(1 1.06) translate(0 0)">Touch Screen</text>
<text x="59.5" y="0" text-anchor="middle" transform="translate(0 848.8) scale(1 1.06) translate(0 0)">3</text>
<text x="342" y="0" text-anchor="middle" transform="translate(0 848.8) scale(1 1.06) translate(0 0)">Filling Switch Plug</text>
<text x="619.5" y="0" text-anchor="middle" transform="translate(0 848.8) scale(1 1.06) translate(0 0)">4</text>
<text x="902.5" y="0" text-anchor="middle" transform="translate(0 848.8) scale(1 1.06) translate(0 0)">Level Sensor Plug</text>
<text x="59.5" y="0" text-anchor="middle" transform="translate(0 909.4) scale(1 1.06) translate(0 0)">5</text>
<text x="342" y="0" text-anchor="middle" transform="translate(0 909.4) scale(1 1.06) translate(0 0)">Level Sensor</text>
<text x="619.5" y="0" text-anchor="middle" transform="translate(0 909.4) scale(1 1.06) translate(0 0)">6</text>
<text x="902.5" y="0" text-anchor="middle" transform="translate(0 909.4) scale(1 1.06) translate(0 0)">Adjustable Gate</text>
<text x="59.5" y="0" text-anchor="middle" transform="translate(0 971.2) scale(1 1.06) translate(0 0)">7</text>
<text x="342" y="0" text-anchor="middle" transform="translate(0 971.2) scale(1 1.06) translate(0 0)">Vibration Feeder</text>
<text x="619.5" y="0" text-anchor="middle" transform="translate(0 971.2) scale(1 1.06) translate(0 0)">8</text>
<text x="902.5" y="0" text-anchor="middle" transform="translate(0 971.2) scale(1 1.06) translate(0 0)">Vibrator</text>
<text x="59.5" y="0" text-anchor="middle" transform="translate(0 1031.8) scale(1 1.06) translate(0 0)">9</text>
<text x="342" y="0" text-anchor="middle" transform="translate(0 1031.8) scale(1 1.06) translate(0 0)">Vibration Reduction Spring</text>
<text x="619.5" y="0" text-anchor="middle" transform="translate(0 1031.8) scale(1 1.06) translate(0 0)">10</text>
<text x="902.5" y="0" text-anchor="middle" transform="translate(0 1031.8) scale(1 1.06) translate(0 0)">Fixed Bolt</text>
<text x="59.5" y="0" text-anchor="middle" transform="translate(0 1093.4) scale(1 1.06) translate(0 0)">11</text>
<text x="342" y="0" text-anchor="middle" transform="translate(0 1093.4) scale(1 1.06) translate(0 0)">Load Cell</text>
<text x="619.5" y="0" text-anchor="middle" transform="translate(0 1093.4) scale(1 1.06) translate(0 0)">12</text>
<text x="902.5" y="0" text-anchor="middle" transform="translate(0 1093.4) scale(1 1.06) translate(0 0)">Cylinder</text>
<text x="59.5" y="0" text-anchor="middle" transform="translate(0 1153.9) scale(1 1.06) translate(0 0)">13</text>
<text x="342" y="0" text-anchor="middle" transform="translate(0 1153.9) scale(1 1.06) translate(0 0)">Weighing Hopper</text>
<text x="619.5" y="0" text-anchor="middle" transform="translate(0 1153.9) scale(1 1.06) translate(0 0)">14</text>
<text x="902.5" y="0" text-anchor="middle" transform="translate(0 1153.9) scale(1 1.06) translate(0 0)">Cylinder</text>
<text x="59.5" y="0" text-anchor="middle" transform="translate(0 1215) scale(1 1.06) translate(0 0)">15</text>
<text x="342" y="0" text-anchor="middle" transform="translate(0 1215) scale(1 1.06) translate(0 0)">Filling Port</text>
<text x="619.5" y="0" text-anchor="middle" transform="translate(0 1215) scale(1 1.06) translate(0 0)">16</text>
<text x="902.5" y="0" text-anchor="middle" transform="translate(0 1215) scale(1 1.06) translate(0 0)">Photoelectric Sensor Bracket</text>
</g>
</svg>
</body></html>
